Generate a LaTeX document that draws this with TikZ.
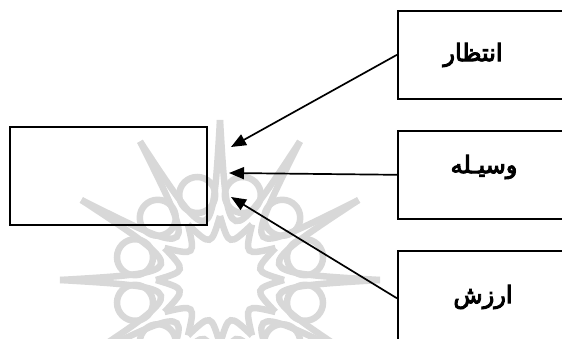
\documentclass[tikz,border=0pt]{standalone}
\usepackage{fontspec}
\usetikzlibrary{arrows.meta}
\TeXXeTstate=1
\newfontfamily\arabicfont[Script=Arabic,BoldFont={DejaVu Sans},BoldFeatures={FakeBold=4}]{DejaVu Sans}
\definecolor{wmgray}{RGB}{216,216,216}
\tikzset{
  box/.style={draw=black, line width=1.6pt, anchor=north west, inner sep=0pt},
  label/.style={font=\arabicfont\bfseries\fontsize{24}{28}\selectfont, inner sep=0pt},
  conn/.style={draw=black, line width=1.7pt, -{Triangle[length=15pt,width=12pt]}},
  wm/.style={draw=wmgray, line width=6.5pt}
}
\begin{document}
\begin{tikzpicture}[x=1pt,y=-1pt]
\useasboundingbox (0,0) rectangle (562,339);
\begin{scope}
\clip (0,0) rectangle (562,339);
% watermark rosette
\begin{scope}[shift={(220,280)}]
\foreach \a in {0,30,...,330}{
  \draw[wm] (\a:160) .. controls (\a+15:30) .. (\a+30:160);
  \draw[wm] (\a+15:88) circle (18);
  \draw[wm] (\a:64) .. controls (\a+15:35) .. (\a+30:64);
}
\end{scope}
% boxes
\node[box, minimum width=197pt, minimum height=98pt] (goal) at (9,126) {};
\node[box, minimum width=180pt, minimum height=88pt] (expect) at (397,10) {};
\node[box, minimum width=180pt, minimum height=88pt] (means) at (397,130) {};
\node[box, minimum width=180pt, minimum height=95pt] (value) at (397,250) {};
\end{scope}
% labels
\node[label] (t1) at (473,55) {\beginR انتظار\endR};
\node[label] (t2) at (484,167) {\beginR وسیـله\endR};
\node[label] (t3) at (483,297) {\beginR ارزش\endR};
% arrow tips
\coordinate (tipA) at (231,147);
\coordinate (tipB) at (229,173);
\coordinate (tipC) at (231,197);
\draw[conn] (expect.west) -- (tipA);
\draw[conn] (means.west) -- (tipB);
\draw[conn] (value.west) -- (tipC);
\end{tikzpicture}
\end{document}
